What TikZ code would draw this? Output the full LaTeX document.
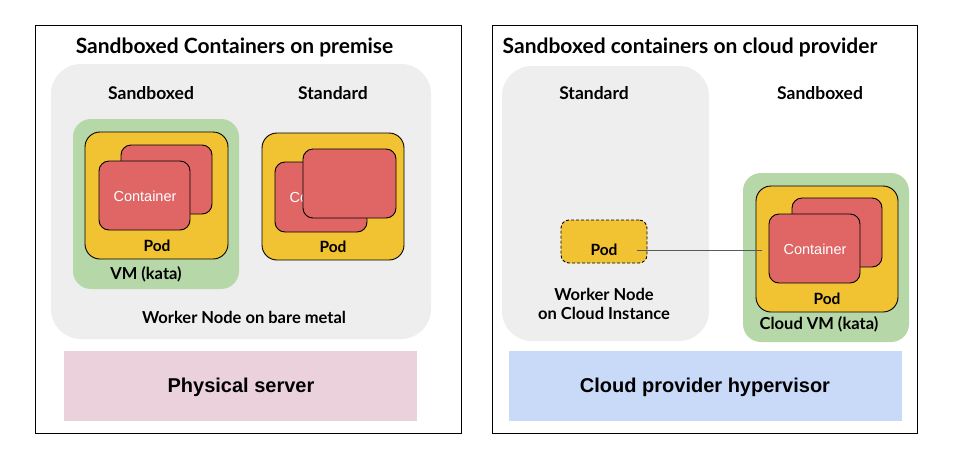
\documentclass[tikz,border=0pt]{standalone}
\usepackage{fontspec}
\setmainfont{Lato}
\newfontfamily\arialf{Liberation Sans}
\usetikzlibrary{positioning}
\definecolor{wgray}{HTML}{EEEEEE}
\definecolor{vmgreen}{HTML}{B6D7A8}
\definecolor{podyel}{HTML}{F1C232}
\definecolor{cred}{HTML}{E06666}
\definecolor{hwpink}{HTML}{EAD1DC}
\definecolor{hvblue}{HTML}{C9DAF8}
\definecolor{linkgray}{HTML}{595959}
\tikzset{
  box/.style={inner sep=0pt, outer sep=0pt},
  frame/.style={box, draw=black, line width=1pt},
  worker/.style={box, fill=wgray, rounded corners=30pt},
  vmbox/.style={box, fill=vmgreen, rounded corners=18pt},
  podbox/.style={box, fill=podyel, draw=black, line width=0.9pt, rounded corners=15pt},
  dashpod/.style={box, fill=podyel, draw=black, line width=0.9pt, rounded corners=8pt, dash pattern=on 3pt off 2pt},
  ctr/.style={box, fill=cred, draw=black, line width=0.9pt, rounded corners=10pt},
  hw/.style={box, fill=hwpink},
  hv/.style={box, fill=hvblue},
  title/.style={font=\fontsize{21}{24}\selectfont\bfseries, inner sep=0pt},
  lbl/.style={font=\fontsize{17.5}{20}\selectfont\bfseries, inner sep=0pt},
  small/.style={font=\fontsize{16.5}{19}\selectfont\bfseries, inner sep=0pt},
  podlbl/.style={font=\fontsize{15.5}{18}\selectfont\bfseries, inner sep=0pt},
  ctext/.style={font=\arialf\fontsize{14.5}{17}\selectfont, text=white, inner sep=0pt},
  big/.style={font=\arialf\fontsize{20}{24}\selectfont\bfseries, inner sep=0pt},
  link/.style={draw=linkgray, line width=0.8pt},
}
\begin{document}
\begin{tikzpicture}[x=1pt,y=-1pt]
\useasboundingbox (0,0) rectangle (953,467);
\fill[white] (0,0) rectangle (953,467);

% ---------- Left panel ----------
\node[frame, minimum width=426pt, minimum height=408pt] (frameL) at (248,229) {};
\node[title] (titleL) at (234.5,47) {Sandboxed Containers on premise};
\node[worker, minimum width=380pt, minimum height=275pt] (workerL) at (241,201.5) {};
\node[lbl] (sbL) at (151,93) {Sandboxed};
\node[lbl] (stL) at (333,93) {Standard};
\node[vmbox, minimum width=166pt, minimum height=170pt] (vmL) at (156,204) {};
\node[podbox, minimum width=143pt, minimum height=127pt] (podL1) at (156.5,195.5) {};
\node[ctr, minimum width=91pt, minimum height=69pt] (cL1b) at (166.5,179.5) {};
\node[ctr, minimum width=91pt, minimum height=69pt] (cL1f) at (144.5,195.5) {};
\node[ctext] (cL1t) at (145,196) {Container};
\node[podlbl] (podL1t) at (157,246) {Pod};
\node[small] (vmLt) at (146,274) {VM (kata)};
\node[podbox, minimum width=142pt, minimum height=127pt] (podL2) at (333,196.5) {};
\node[ctr, minimum width=92pt, minimum height=70pt] (cL2a) at (321,197) {};
\node[ctext] (cL2t) at (321,197) {Container};
\node[ctr, minimum width=93pt, minimum height=69pt] (cL2b) at (349.5,183.5) {};
\node[podlbl] (podL2t) at (333,247) {Pod};
\node[small] (wLt) at (244,317) {Worker Node on bare metal};
\node[hw, minimum width=353pt, minimum height=70pt] (phys) at (240.5,386) {};
\node[big] (physt) at (241,387) {Physical server};

% ---------- Right panel ----------
\node[frame, minimum width=425pt, minimum height=408pt] (frameR) at (704.5,229) {};
\node[title] (titleR) at (690,47) {Sandboxed containers on cloud provider};
\node[worker, minimum width=207pt, minimum height=275pt] (workerR) at (605.5,203.5) {};
\node[lbl] (stR) at (594,93) {Standard};
\node[lbl] (sbR) at (820,93) {Sandboxed};
\node[dashpod, minimum width=86pt, minimum height=43pt] (podD) at (604,241.5) {};
\node[podlbl] (podDt) at (604,250) {Pod};
\node[small, align=center] (wRt) at (604,303.5) {Worker Node\\on Cloud Instance};
\node[vmbox, minimum width=166pt, minimum height=169pt] (vmR) at (826,257.5) {};
\node[podbox, minimum width=142pt, minimum height=126pt] (podR) at (827,249) {};
\node[ctr, minimum width=90pt, minimum height=69pt] (cRb) at (837,232.5) {};
\node[ctr, minimum width=91pt, minimum height=69pt] (cRf) at (814.5,248.5) {};
\node[ctext] (cRt) at (815,249) {Container};
\node[podlbl] (podRt) at (827,299) {Pod};
\node[small] (vmRt) at (819,324) {Cloud VM (kata)};
\node[hv, minimum width=393pt, minimum height=70pt] (hyp) at (705.5,386) {};
\node[big] (hypt) at (705,387) {Cloud provider hypervisor};

\coordinate (lnA) at (podD.east |- podDt.center);
\coordinate (lnB) at (podR.west |- podDt.center);
\draw[link, shorten <=-10pt, shorten >=-6pt] (lnA) -- (lnB);
\end{tikzpicture}
\end{document}
